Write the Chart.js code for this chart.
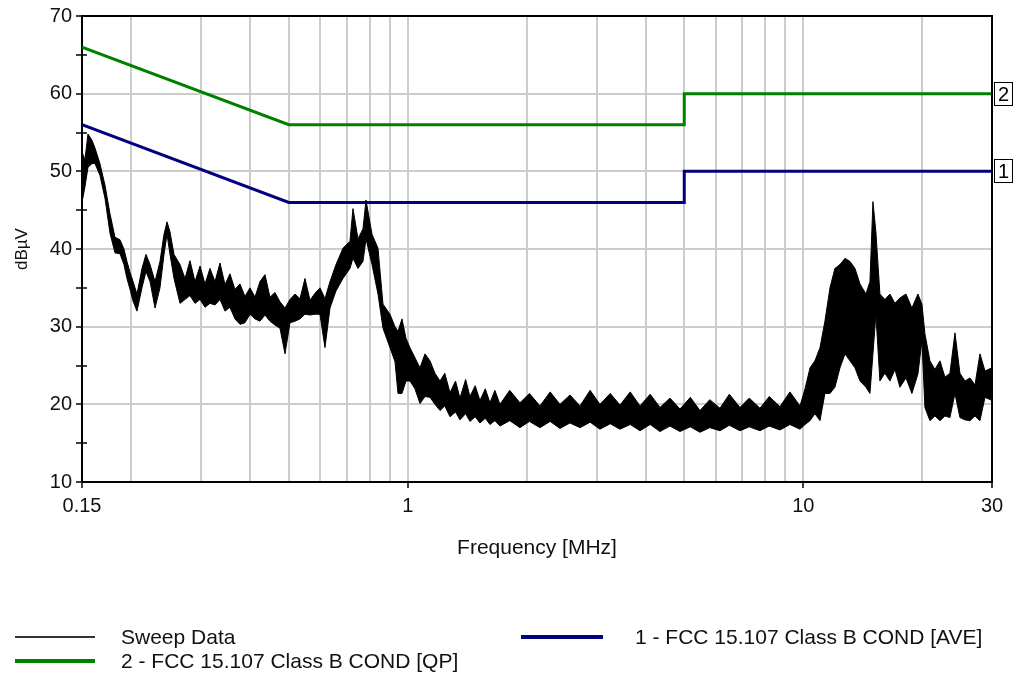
<!DOCTYPE html>
<html>
<head>
<meta charset="utf-8">
<script src="https://cdn.jsdelivr.net/npm/chart.js@4.4.0/dist/chart.umd.min.js"></script>
<style>
  body { margin: 0; background: #fff; font-family: "Liberation Sans", Arial, sans-serif; }
  #wrap { position: relative; width: 1016px; height: 686px; }
  .swatch { position: absolute; height: 0; }
  .ltext { position: absolute; font-size: 21px; color: #111; line-height: 24px; }
</style>
</head>
<body>
<div id="wrap">
  <canvas id="chart" width="1016" height="686"></canvas>
  <div class="swatch" style="left:15px;top:636px;width:80px;border-top:2px solid #333"></div>
  <div class="ltext" style="left:121px;top:625px">Sweep Data</div>
  <div class="swatch" style="left:521px;top:635px;width:82px;border-top:4px solid #000080"></div>
  <div class="ltext" style="left:635px;top:625px">1 - FCC 15.107 Class B COND [AVE]</div>
  <div class="swatch" style="left:15px;top:659px;width:80px;border-top:4px solid #008000"></div>
  <div class="ltext" style="left:121px;top:649px">2 - FCC 15.107 Class B COND [QP]</div>
</div>
<script>
const sweepFreq = [
  0.150, 0.1526, 0.1553, 0.159, 0.1618, 0.1665, 0.1715, 0.1766, 0.1818, 0.1871,
  0.1915, 0.1949, 0.1984, 0.2019, 0.2066, 0.2127, 0.2177, 0.2229, 0.2295, 0.2362,
  0.2418, 0.2461, 0.2504, 0.2563, 0.2654, 0.2733, 0.2813, 0.2896, 0.2982, 0.3070,
  0.3160, 0.3254, 0.3350, 0.3449, 0.3550, 0.3655, 0.3763, 0.3874, 0.3989, 0.4107,
  0.4228, 0.4353, 0.4481, 0.4614, 0.4750, 0.4891, 0.5035, 0.5184, 0.5337, 0.5494,
  0.5657, 0.5823, 0.5996, 0.6173, 0.6356, 0.6581, 0.6855, 0.714, 0.7266, 0.7481,
  0.7702, 0.7838, 0.8117, 0.8405, 0.8653, 0.9013, 0.9279, 0.9443, 0.9665, 0.9893,
  1.0125, 1.0425, 1.0733, 1.1051, 1.1377, 1.1712, 1.206, 1.24, 1.2782, 1.32,
  1.3547, 1.40, 1.4358, 1.48, 1.5219, 1.57, 1.6132, 1.66, 1.710, 1.81,
  1.921, 2.03, 2.158, 2.29, 2.425, 2.57, 2.725, 2.89, 3.060, 3.25,
  3.439, 3.65, 3.864, 4.10, 4.341, 4.60, 4.877, 5.18, 5.480, 5.80,
  6.156, 6.50, 6.917, 7.30, 7.77, 8.20, 8.73, 9.25, 9.81, 10.10,
  10.40, 10.70, 11.02, 11.34, 11.68, 12.02, 12.38, 12.75, 13.12, 13.51,
  13.91, 14.40, 14.74, 15.0, 15.26, 15.62, 16.08, 16.56, 17.05, 17.55,
  18.18, 18.82, 19.49, 19.95, 20.30, 20.90, 21.52, 22.16, 22.81, 23.48,
  24.18, 24.89, 25.63, 26.39, 27.17, 27.97, 28.80, 30.0
];
const sweepHigh = [
  52.5, 51.5, 54.8, 54.0, 53.0, 51.0, 48.2, 44.5, 41.5, 41.2,
  40.0, 38.4, 37.0, 35.8, 34.2, 37.5, 39.3, 38.0, 35.8, 38.4,
  41.9, 43.5, 42.2, 39.3, 38.0, 36.2, 38.5, 35.8, 37.8, 35.5,
  37.5, 35.8, 38.2, 35.4, 36.8, 34.8, 35.5, 33.9, 35.0, 33.8,
  35.8, 36.7, 33.8, 34.4, 33.2, 32.4, 33.5, 34.2, 33.6, 36.2,
  33.4, 34.3, 35.0, 33.6, 35.8, 38.0, 40.1, 41.0, 45.2, 41.3,
  42.6, 46.3, 41.9, 40.1, 32.9, 31.6, 30.0, 29.4, 31.0, 28.5,
  27.3, 26.0, 24.7, 26.5, 25.6, 24.0, 23.0, 24.0, 21.5, 23.0,
  20.8, 23.2, 21.0, 22.4, 20.5, 22.0, 20.2, 21.8, 20.0, 21.8,
  20.2, 21.4, 19.8, 21.6, 20.0, 21.2, 19.8, 21.8, 20.0, 21.4,
  19.9, 21.6, 19.8, 21.3, 19.6, 20.8, 19.4, 20.9, 19.2, 20.6,
  19.5, 21.3, 19.6, 20.8, 19.5, 21.0, 19.7, 21.6, 19.8, 22.0,
  24.7, 25.6, 27.3, 30.7, 35.0, 37.5, 38.0, 38.8, 38.4, 37.5,
  35.5, 34.2, 35.8, 46.1, 42.2, 34.2, 33.5, 34.2, 33.0, 33.7,
  34.2, 32.4, 34.2, 32.9, 29.1, 25.6, 24.5, 25.6, 23.5, 24.0,
  29.2, 24.0, 23.0, 23.4, 22.5, 26.5, 24.3, 24.7
];
const sweepLow = [
  46.0, 48.0, 50.5, 51.0, 51.0, 49.5, 46.5, 42.0, 39.5, 39.4,
  38.0, 36.2, 34.8, 33.3, 32.0, 35.0, 37.1, 35.8, 32.4, 35.0,
  39.3, 41.9, 39.3, 36.2, 33.0, 33.5, 34.0, 33.0, 33.5, 32.5,
  33.0, 32.8, 33.5, 32.0, 32.5, 31.0, 30.3, 30.5, 31.6, 31.0,
  30.7, 31.5, 30.7, 30.2, 29.8, 26.5, 30.5, 30.7, 31.0, 31.6,
  31.5, 31.6, 31.6, 27.3, 32.4, 34.6, 36.2, 37.5, 38.8, 37.5,
  38.4, 41.3, 38.0, 34.2, 29.8, 27.3, 25.5, 21.4, 21.4, 23.0,
  23.0, 22.0, 20.1, 21.0, 20.9, 20.0, 19.2, 19.8, 18.4, 19.0,
  18.0, 18.8, 17.8, 18.4, 17.6, 18.2, 17.4, 17.9, 17.2, 17.9,
  17.0, 17.8, 17.0, 17.8, 16.9, 17.6, 17.0, 17.7, 16.8, 17.5,
  16.8, 17.4, 16.6, 17.4, 16.5, 17.2, 16.5, 17.1, 16.4, 17.0,
  16.6, 17.3, 16.6, 17.1, 16.6, 17.2, 16.7, 17.4, 16.8, 17.4,
  17.9, 18.8, 17.9, 21.4, 21.4, 22.2, 24.7, 26.5, 25.6, 24.7,
  23.0, 22.2, 21.4, 26.5, 31.6, 23.0, 24.0, 23.0, 24.5, 22.2,
  23.4, 21.4, 23.9, 28.2, 19.6, 17.9, 18.5, 17.9, 18.5, 18.3,
  21.4, 18.3, 18.0, 17.9, 18.5, 17.9, 20.9, 20.5
];

// FCC 15.107 class B conducted limits
const limitFreq = [0.15, 0.5, 5, 5, 30];
const qpLimit = [66, 56, 56, 60, 60];
const aveLimit = [56, 46, 46, 50, 50];

const xTickValues = [0.15, 0.2, 0.3, 0.4, 0.5, 0.6, 0.7, 0.8, 0.9, 1, 2, 3, 4, 5, 6, 7, 8, 9, 10, 20, 30];
const xTickLabels = [0.15, 1, 10, 30];

const FONT = '"Liberation Sans", Arial, sans-serif';
const GRID = '#cccccc';

const toXY = (xs, ys) => xs.map((x, i) => ({ x: x, y: ys[i] }));

const framePlugin = {
    id: 'frame',
    afterDraw(chart) {
        const { ctx, chartArea: a, scales: { y } } = chart;
        ctx.save();
        ctx.strokeStyle = '#000';
        ctx.lineWidth = 2;
        ctx.beginPath();
        ctx.moveTo(a.left, a.top);
        ctx.lineTo(a.right, a.top);
        ctx.lineTo(a.right, a.bottom);
        ctx.stroke();

        // inner half of the minor y ticks
        ctx.lineWidth = 1.5;
        ctx.beginPath();
        for (let v = 15; v < 70; v += 10) {
            const py = Math.round(y.getPixelForValue(v));
            ctx.moveTo(a.left, py);
            ctx.lineTo(a.left + 5, py);
        }
        ctx.stroke();

        // numbered limit markers on the right edge
        ctx.font = '20px ' + FONT;
        ctx.textAlign = 'center';
        ctx.textBaseline = 'middle';
        [['2', qpLimit[qpLimit.length - 1]], ['1', aveLimit[aveLimit.length - 1]]].forEach(([txt, v]) => {
            const py = Math.round(y.getPixelForValue(v));
            ctx.lineWidth = 1;
            ctx.fillStyle = '#fff';
            ctx.fillRect(a.right + 2, py - 12, 19, 24);
            ctx.strokeRect(a.right + 2.5, py - 11.5, 18, 23);
            ctx.fillStyle = '#000';
            ctx.fillText(txt, a.right + 11.5, py + 1);
        });
        ctx.restore();
    }
};

new Chart(document.getElementById('chart'), {
    type: 'line',
    data: {
        datasets: [
            {
                label: 'Sweep Data',
                data: toXY(sweepFreq, sweepHigh),
                borderColor: '#000',
                backgroundColor: '#000',
                borderWidth: 1,
                pointRadius: 0,
                fill: '+1'
            },
            {
                label: 'Sweep Data (low)',
                data: toXY(sweepFreq, sweepLow),
                borderColor: '#000',
                borderWidth: 1,
                pointRadius: 0,
                fill: false
            },
            {
                label: '1 - FCC 15.107 Class B COND [AVE]',
                data: toXY(limitFreq, aveLimit),
                borderColor: '#000080',
                borderWidth: 3,
                pointRadius: 0,
                fill: false
            },
            {
                label: '2 - FCC 15.107 Class B COND [QP]',
                data: toXY(limitFreq, qpLimit),
                borderColor: '#008000',
                borderWidth: 3,
                pointRadius: 0,
                fill: false
            }
        ]
    },
    options: {
        responsive: false,
        animation: false,
        devicePixelRatio: 1,
        layout: { padding: { top: 13, right: 24, bottom: 124, left: 0 } },
        plugins: { legend: { display: false }, tooltip: { enabled: false } },
        scales: {
            x: {
                type: 'logarithmic',
                min: 0.15,
                max: 30,
                afterFit: (scale) => { scale.height = 80; },
                afterBuildTicks: (scale) => { scale.ticks = xTickValues.map(v => ({ value: v })); },
                border: { color: '#000', width: 2 },
                grid: {
                    color: (c) => (c.tick && (c.tick.value === 0.15 || c.tick.value === 30)) ? 'transparent' : GRID,
                    lineWidth: 2,
                    tickColor: (c) => (c.tick && xTickLabels.includes(c.tick.value)) ? '#000' : 'transparent',
                    tickLength: 6,
                    tickWidth: 1.5
                },
                ticks: {
                    autoSkip: false,
                    maxRotation: 0,
                    padding: 6,
                    color: '#111',
                    font: { family: FONT, size: 20 },
                    callback: (v) => xTickLabels.includes(v) ? String(v) : ''
                },
                title: {
                    display: true,
                    text: 'Frequency [MHz]',
                    color: '#111',
                    font: { family: FONT, size: 21 },
                    padding: { top: 0, bottom: 1 }
                }
            },
            y: {
                min: 10,
                max: 70,
                afterFit: (scale) => { scale.width = 82; },
                border: { color: '#000', width: 2 },
                grid: {
                    color: (c) => (c.tick && c.tick.value % 10 === 0 && c.tick.value > 10 && c.tick.value < 70) ? GRID : 'transparent',
                    lineWidth: 2,
                    tickColor: '#000',
                    tickLength: 6,
                    tickWidth: 1.5
                },
                ticks: {
                    stepSize: 5,
                    padding: 4,
                    color: '#111',
                    font: { family: FONT, size: 20 },
                    callback: (v) => v % 10 === 0 ? String(v) : ''
                },
                title: {
                    display: true,
                    text: 'dBµV',
                    color: '#111',
                    font: { family: FONT, size: 17 },
                    padding: { top: 12, bottom: 0 }
                }
            }
        }
    },
    plugins: [framePlugin]
});
</script>
</body>
</html>
